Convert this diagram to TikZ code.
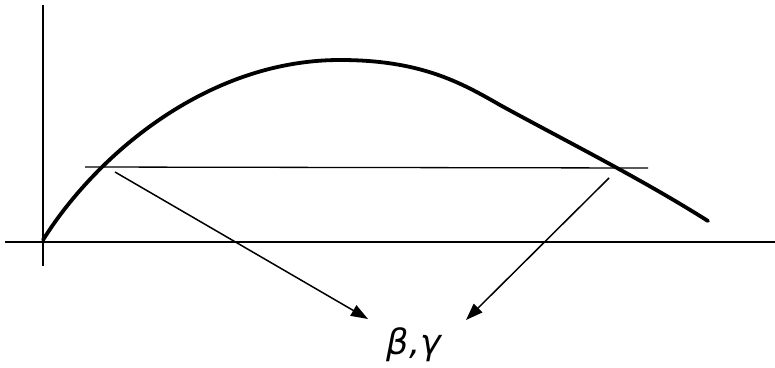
\documentclass[tikz,border=0pt]{standalone}
\usepackage{fontspec}
\newfontfamily\greekfont{DejaVu Sans}
\usetikzlibrary{arrows.meta}
\begin{document}
\begin{tikzpicture}[x=1pt,y=-1pt,
  axis/.style={line width=2.8pt},
  curve/.style={line width=3.8pt,line join=round,line cap=round},
  thin/.style={line width=1.3pt},
  arr/.style={line width=1.5pt,-{Triangle[length=17pt,width=12pt]}}]
\useasboundingbox (0,0) rectangle (775,367);
\coordinate (ytop) at (43,5);
\coordinate (ybot) at (43,266);
\coordinate (xl) at (5,242);
\coordinate (xr) at (775,242);
\draw[axis] (ybot) -- (ytop);
\draw[axis] (xl) -- (xr);
\coordinate (c0) at (43,240);
\coordinate (c1) at (340,60);
\coordinate (c2) at (500,105);
\coordinate (c3) at (708,221);
\draw[curve] (c0) .. controls (94,158) and (205,60) .. (c1)
  .. controls (420,60) and (460,82) .. (c2)
  .. controls (560,138) and (640,178) .. (c3);
\coordinate (hl) at (85,167);
\coordinate (hr) at (648,168);
\draw[thin] (hl) -- (hr);
\node[font=\greekfont\itshape\fontsize{35}{35}\selectfont,inner sep=0pt] (lbl) at (414,345) {β,γ};
\coordinate (s1) at (115,172);
\coordinate (t1) at (368,319);
\coordinate (s2) at (609,178);
\coordinate (t2) at (466,320);
\draw[arr] (s1) -- (t1);
\draw[arr] (s2) -- (t2);
\end{tikzpicture}
\end{document}
